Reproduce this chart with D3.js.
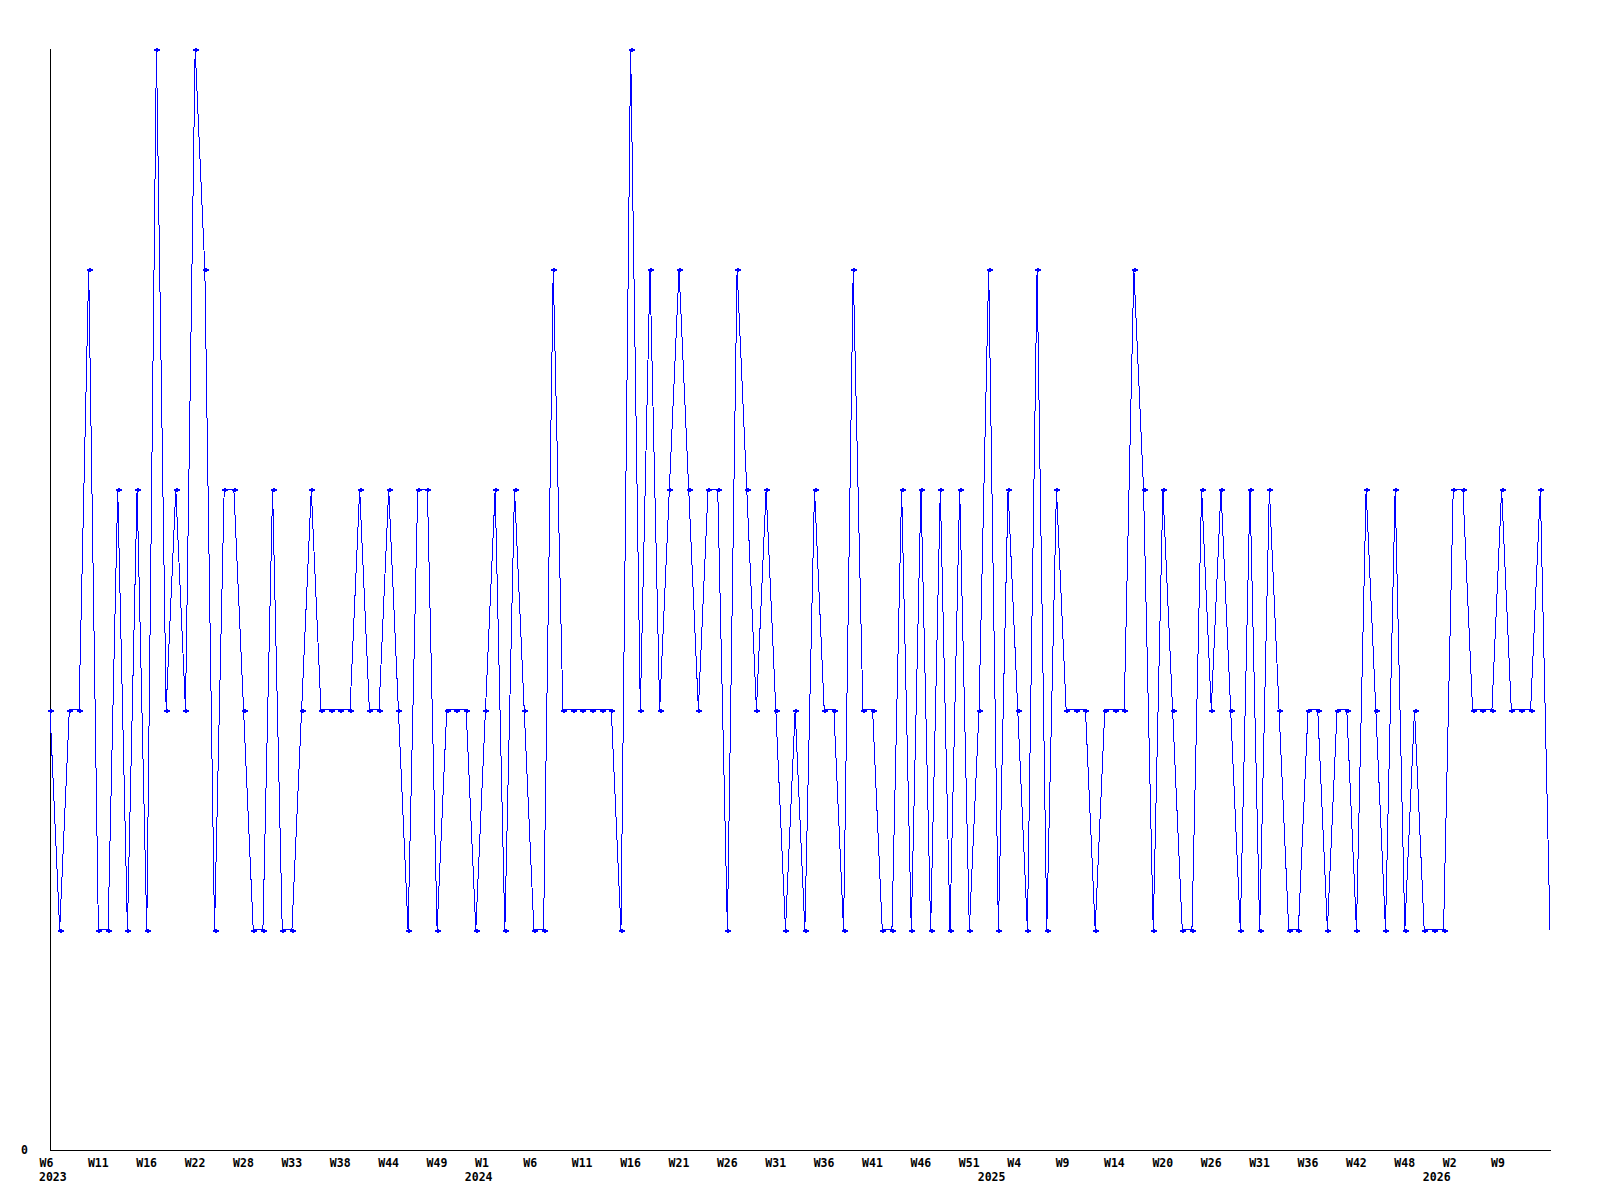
<!DOCTYPE html>
<html>
<head>
<meta charset="utf-8">
<script src="https://cdn.jsdelivr.net/npm/d3@7"></script>
<style>
  body { margin: 0; background: #fff; }
  text { font-family: "DejaVu Sans Mono", monospace; font-weight: bold; font-size: 11.5px; fill: #000; }
</style>
</head>
<body>
<svg id="chart" width="1600" height="1200"></svg>
<script>
// one value per sample (levels 1..5)
var values = [
  2,1,2,2,4,1,1,3,1,3, 1,5,2,3,2,5,4,1,3,3,
  2,1,1,3,1,1,2,3,2,2, 2,2,3,2,2,3,2,1,3,3,
  1,2,2,2,1,2,3,1,3,2, 1,1,4,2,
  2,2,2,2,2,1,5,2,4,2, 3,4,3,2,3,3,1,4,3,2,
  3,2,1,2,1,3,2,2,1,4, 2,2,1,1,3,1,3,1,3,1,
  3,1,2,4,1,3,2,1,4,1, 3,2,2,
  2,1,2,2,2,4,3,1,3,2, 1,1,3,2,3,2,1,3,1,3,
  2,1,1,2,2,1,2,2,1,3, 2,1,3,1,2,1,1,1,3,3,
  2,2,2,3,2,2,2,3,1
];

// a week label on every 5th sample
var weekLabels = ["W6","W11","W16","W22","W28","W33","W38","W44","W49",
  "W1","W6","W11","W16","W21","W26","W31","W36","W41","W46","W51",
  "W4","W9","W14","W20","W26","W31","W36","W42","W48","W2","W9"];
var labelStep = 5;

// year labels and the sample where each year starts
var years = ["2023","2024","2025","2026"];
var yearStart = [0, 44, 97, 143];

var svg = d3.select("#chart");

var x = d3.scaleLinear().domain([0, values.length - 1]).range([50, 1550]);
var y = d3.scaleLinear().domain([0, 5]).range([1150, 49]);

// bottom axis with week labels
var xAxis = d3.axisBottom(x)
  .tickValues(weekLabels.map(function (d, i) { return i * labelStep; }))
  .tickFormat(function (d, i) { return weekLabels[i]; })
  .tickSize(0)
  .tickSizeOuter(0)
  .tickPadding(9);

var gx = svg.append("g")
  .attr("transform", "translate(0," + y(0) + ")")
  .call(xAxis);
gx.select(".domain").attr("stroke", "#000").attr("shape-rendering", "crispEdges")
  .attr("d", "M" + x(0) + ",0.5H" + (x(values.length - 1) + 1));
gx.selectAll("text")
  .attr("text-anchor", "start")
  .attr("dx", -11)
  .attr("font-family", null).attr("font-size", null);

// left axis, only the zero
var yAxis = d3.axisLeft(y)
  .tickValues([0])
  .tickFormat(d3.format("d"))
  .tickSize(0)
  .tickSizeOuter(0)
  .tickPadding(22);
var gy = svg.append("g")
  .attr("transform", "translate(" + x(0) + ",0)")
  .call(yAxis);
gy.select(".domain").attr("stroke", "#000").attr("shape-rendering", "crispEdges")
  .attr("d", "M0.5," + y(5) + "V" + y(0));
gy.selectAll("text").attr("font-family", null).attr("font-size", null);

// year labels under the weeks
svg.append("g").selectAll("text")
  .data(years)
  .enter()
  .append("text")
  .attr("x", function (d, i) { return x(yearStart[i]) - 11; })
  .attr("y", y(0) + 31)
  .text(function (d) { return d; });

// the series
var line = d3.line()
  .x(function (d, i) { return x(i); })
  .y(function (d) { return y(d); });

svg.append("path")
  .datum(values)
  .attr("d", line)
  .attr("fill", "none")
  .attr("stroke", "#0000ff")
  .attr("stroke-width", 1)
  .attr("shape-rendering", "crispEdges");

// small markers, the last sample has none
svg.append("g").selectAll("path")
  .data(values.slice(0, values.length - 1))
  .enter()
  .append("path")
  .attr("transform", function (d, i) { return "translate(" + Math.round(x(i)) + "," + Math.round(y(d)) + ")"; })
  .attr("d", "M-2.5,0.5H3.5M0.5,-1.5V2.5")
  .attr("stroke", "#0000ff")
  .attr("stroke-width", 2)
  .attr("shape-rendering", "crispEdges");
</script>
</body>
</html>
